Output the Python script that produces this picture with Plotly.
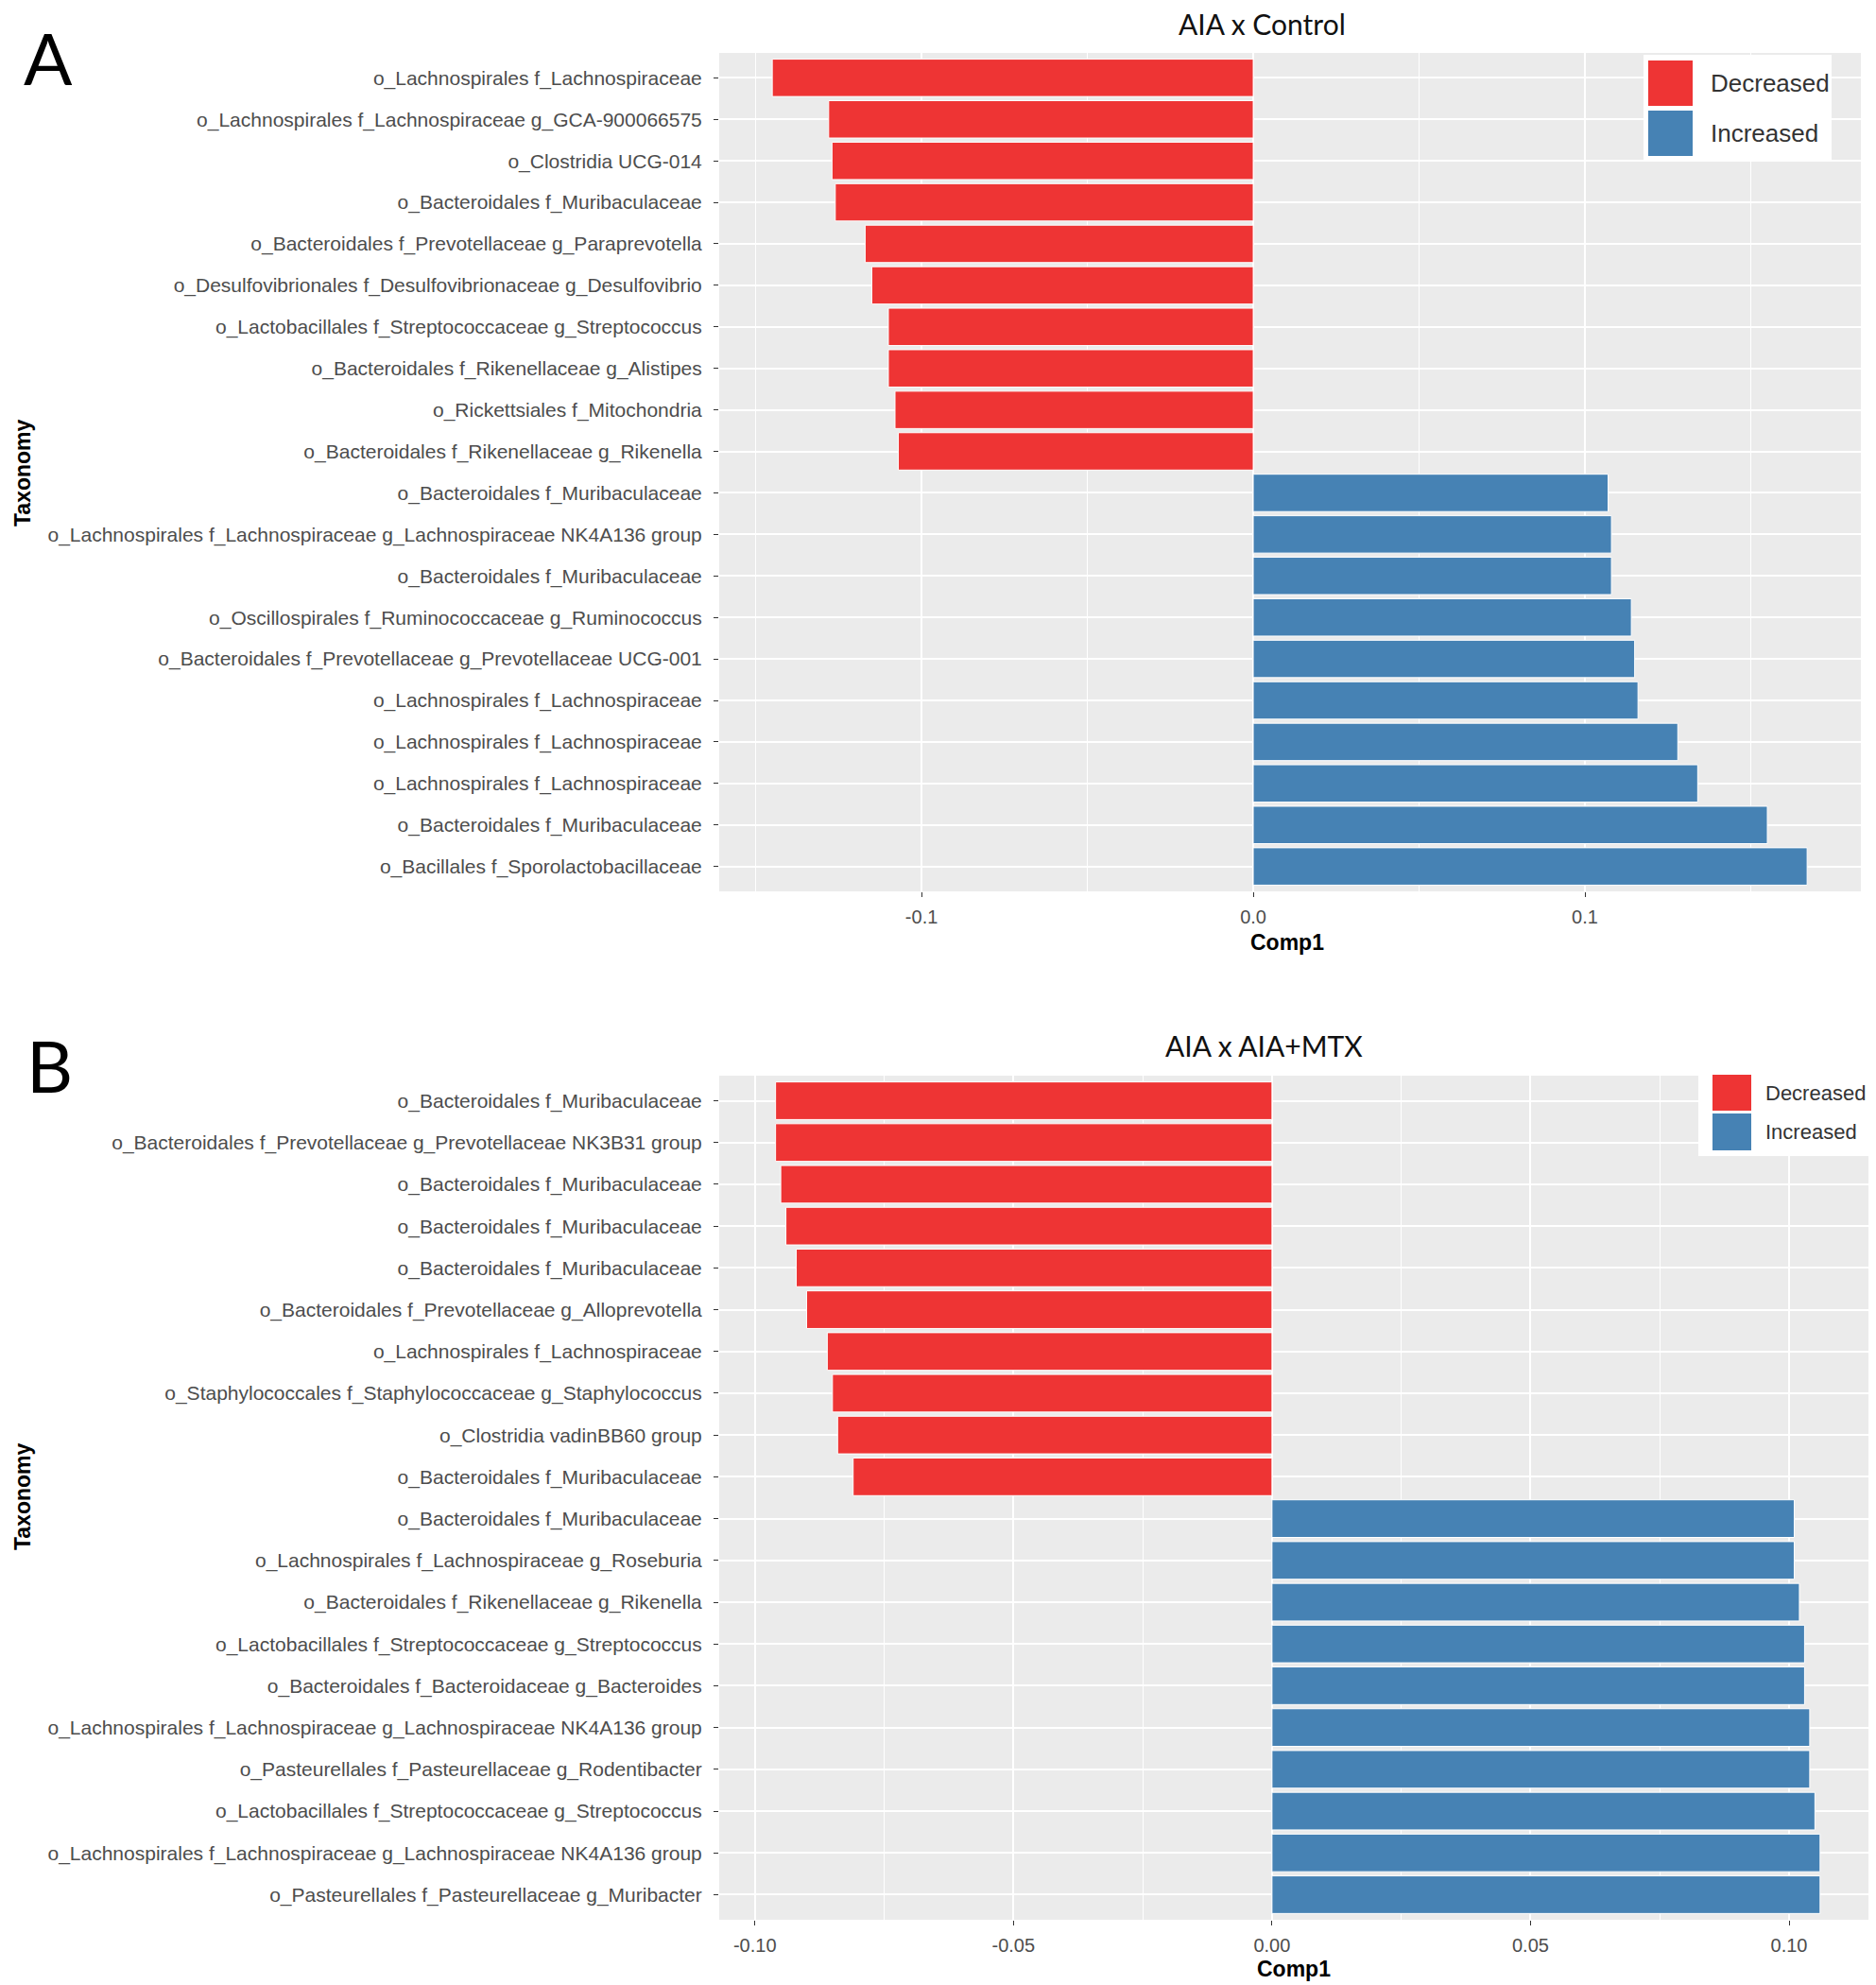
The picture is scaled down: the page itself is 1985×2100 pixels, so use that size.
import plotly.graph_objects as go

W, H = 1985, 2100
OFF = 8  # page body margin offset of the rendered figure

# ---------------- data (top-to-bottom order as displayed) ----------------
taxa_a = [
    "o_Lachnospirales f_Lachnospiraceae",
    "o_Lachnospirales f_Lachnospiraceae g_GCA-900066575",
    "o_Clostridia UCG-014",
    "o_Bacteroidales f_Muribaculaceae",
    "o_Bacteroidales f_Prevotellaceae g_Paraprevotella",
    "o_Desulfovibrionales f_Desulfovibrionaceae g_Desulfovibrio",
    "o_Lactobacillales f_Streptococcaceae g_Streptococcus",
    "o_Bacteroidales f_Rikenellaceae g_Alistipes",
    "o_Rickettsiales f_Mitochondria",
    "o_Bacteroidales f_Rikenellaceae g_Rikenella",
    "o_Bacteroidales f_Muribaculaceae",
    "o_Lachnospirales f_Lachnospiraceae g_Lachnospiraceae NK4A136 group",
    "o_Bacteroidales f_Muribaculaceae",
    "o_Oscillospirales f_Ruminococcaceae g_Ruminococcus",
    "o_Bacteroidales f_Prevotellaceae g_Prevotellaceae UCG-001",
    "o_Lachnospirales f_Lachnospiraceae",
    "o_Lachnospirales f_Lachnospiraceae",
    "o_Lachnospirales f_Lachnospiraceae",
    "o_Bacteroidales f_Muribaculaceae",
    "o_Bacillales f_Sporolactobacillaceae",
]
comp1_a = [-0.145, -0.128, -0.127, -0.126, -0.117, -0.115, -0.110, -0.110, -0.108, -0.107,
           0.107, 0.108, 0.108, 0.114, 0.115, 0.116, 0.128, 0.134, 0.155, 0.167]

taxa_b = [
    "o_Bacteroidales f_Muribaculaceae",
    "o_Bacteroidales f_Prevotellaceae g_Prevotellaceae NK3B31 group",
    "o_Bacteroidales f_Muribaculaceae",
    "o_Bacteroidales f_Muribaculaceae",
    "o_Bacteroidales f_Muribaculaceae",
    "o_Bacteroidales f_Prevotellaceae g_Alloprevotella",
    "o_Lachnospirales f_Lachnospiraceae",
    "o_Staphylococcales f_Staphylococcaceae g_Staphylococcus",
    "o_Clostridia vadinBB60 group",
    "o_Bacteroidales f_Muribaculaceae",
    "o_Bacteroidales f_Muribaculaceae",
    "o_Lachnospirales f_Lachnospiraceae g_Roseburia",
    "o_Bacteroidales f_Rikenellaceae g_Rikenella",
    "o_Lactobacillales f_Streptococcaceae g_Streptococcus",
    "o_Bacteroidales f_Bacteroidaceae g_Bacteroides",
    "o_Lachnospirales f_Lachnospiraceae g_Lachnospiraceae NK4A136 group",
    "o_Pasteurellales f_Pasteurellaceae g_Rodentibacter",
    "o_Lactobacillales f_Streptococcaceae g_Streptococcus",
    "o_Lachnospirales f_Lachnospiraceae g_Lachnospiraceae NK4A136 group",
    "o_Pasteurellales f_Pasteurellaceae g_Muribacter",
]
comp1_b = [-0.096, -0.096, -0.095, -0.094, -0.092, -0.090, -0.086, -0.085, -0.084, -0.081,
           0.101, 0.101, 0.102, 0.103, 0.103, 0.104, 0.104, 0.105, 0.106, 0.106]

xticks_a = [-0.1, 0.0, 0.1]
xticklabels_a = ["-0.1", "0.0", "0.1"]
xticks_b = [-0.10, -0.05, 0.00, 0.05, 0.10]
xticklabels_b = ["-0.10", "-0.05", "0.00", "0.05", "0.10"]

groups = ["Decreased", "Increased"]
group_colors = ["#EE3434", "#4682B4"]
titles = ["AIA x Control", "AIA x AIA+MTX"]
panel_letters = ["A", "B"]

# ---------------- layout geometry (pixels, page coordinates) ----------------
panels = [
    dict(left=761, right=1969, top=56, bottom=943, xr=[-0.161, 0.1832], minor=0.05,
         ticks=(xticks_a, xticklabels_a),
         title_xy=(1335, 25), letter_xy=(51, 60), tax_xy=(24, 500), comp_xy=(1362, 997),
         leg=dict(box=(1739, 58, 1938, 170), key_x=(1744, 1791), keys=[(64, 112), (117, 165)],
                  text_x=1808, size=26)),
    dict(left=761, right=1980, top=1138, bottom=2031, xr=[-0.1069, 0.1159], minor=0.025,
         ticks=(xticks_b, xticklabels_b),
         title_xy=(1337, 1106), letter_xy=(52, 1126), tax_xy=(24, 1583), comp_xy=(1369, 2083),
         leg=dict(box=(1797, 1113, 1985, 1223), key_x=(1812, 1853), keys=[(1137, 1175), (1178, 1217)],
                  text_x=1866, size=22)),
]

def px(x, y):
    return (x - OFF) / W, 1 - (y - OFF) / H

fig = go.Figure()
shapes, annotations = [], []
FONT = "Liberation Sans, Arial, sans-serif"
TITLE_FONT = "Lato, Open Sans, sans-serif"

for k, (taxa, vals) in enumerate([(taxa_a, comp1_a), (taxa_b, comp1_b)]):
    p = panels[k]
    xa = "x" if k == 0 else "x2"
    ya = "y" if k == 0 else "y2"
    pos = list(range(len(taxa)))
    for g, col in zip(groups, group_colors):
        sel = [i for i, v in enumerate(vals) if (v < 0) == (g == "Decreased")]
        fig.add_trace(go.Bar(
            x=[vals[i] for i in sel], y=[pos[i] for i in sel], orientation="h",
            width=0.9, marker=dict(color=col, line=dict(color="white", width=1)),
            name=g, showlegend=False, xaxis=xa, yaxis=ya,
        ))
    x0, y1 = px(p["left"], p["top"])
    x1, y0 = px(p["right"], p["bottom"])
    axkey = "" if k == 0 else "2"
    tv, tt = p["ticks"]
    fig.update_layout(**{
        "xaxis" + axkey: dict(
            domain=[x0, x1], anchor=ya, range=p["xr"], tickvals=tv, ticktext=tt,
            showgrid=True, gridcolor="white", gridwidth=2,
            minor=dict(dtick=p["minor"], tick0=0, showgrid=True, gridcolor="white", gridwidth=1),
            zeroline=False, ticks="outside", ticklen=5, tickcolor="#333333", tickwidth=1,
            tickfont=dict(family=FONT, size=20, color="#4D4D4D"), ticklabelstandoff=4,
            showline=False,
        ),
        "yaxis" + axkey: dict(
            domain=[y0, y1], anchor=xa, range=[len(taxa) - 0.4, -0.6],
            tickvals=pos, ticktext=taxa, showgrid=True, gridcolor="white", gridwidth=2,
            zeroline=False, ticks="outside", ticklen=5, tickcolor="#333333", tickwidth=1,
            tickfont=dict(family=FONT, size=21, color="#4D4D4D"), ticklabelstandoff=8,
        ),
    })
    # panel background
    shapes.append(dict(type="rect", xref="paper", yref="paper", x0=x0, x1=x1, y0=y0, y1=y1,
                       fillcolor="#EBEBEB", line=dict(width=0), layer="below"))
    # title, letter, axis titles
    tx, ty = px(*p["title_xy"])
    annotations.append(dict(text=titles[k], x=tx, y=ty, xref="paper", yref="paper", showarrow=False,
                            font=dict(family=TITLE_FONT, size=30, color="#111111"),
                            xanchor="center", yanchor="middle"))
    lx, ly = px(*p["letter_xy"])
    annotations.append(dict(text=panel_letters[k], x=lx, y=ly, xref="paper", yref="paper",
                            showarrow=False, font=dict(family=TITLE_FONT, size=76, color="black"),
                            xanchor="center", yanchor="middle"))
    ax_, ay_ = px(*p["tax_xy"])
    annotations.append(dict(text="<b>Taxonomy</b>", x=ax_, y=ay_, xref="paper", yref="paper",
                            showarrow=False, textangle=-90,
                            font=dict(family=FONT, size=23, color="black"),
                            xanchor="center", yanchor="middle"))
    cx, cy = px(*p["comp_xy"])
    annotations.append(dict(text="<b>Comp1</b>", x=cx, y=cy, xref="paper", yref="paper",
                            showarrow=False, font=dict(family=FONT, size=23, color="black"),
                            xanchor="center", yanchor="middle"))
    # legend (guide)
    lg = p["leg"]
    bx0, by1 = px(lg["box"][0], lg["box"][1])
    bx1, by0 = px(lg["box"][2], lg["box"][3])
    shapes.append(dict(type="rect", xref="paper", yref="paper", x0=bx0, x1=bx1, y0=by0, y1=by1,
                       fillcolor="white", line=dict(width=0), layer="above"))
    for (ky0, ky1), g, col in zip(lg["keys"], groups, group_colors):
        kx0, kyy1 = px(lg["key_x"][0], ky0)
        kx1, kyy0 = px(lg["key_x"][1], ky1)
        shapes.append(dict(type="rect", xref="paper", yref="paper", x0=kx0, x1=kx1, y0=kyy0,
                           y1=kyy1, fillcolor=col, line=dict(width=0), layer="above"))
        ttx, tty = px(lg["text_x"], (ky0 + ky1) / 2)
        annotations.append(dict(text=g, x=ttx, y=tty, xref="paper", yref="paper", showarrow=False,
                                font=dict(family=FONT, size=lg["size"], color="#333333"),
                                xanchor="left", yanchor="middle"))

fig.update_layout(
    width=W, height=H, margin=dict(l=0, r=0, t=0, b=0),
    paper_bgcolor="white", plot_bgcolor="rgba(0,0,0,0)",
    barmode="overlay", showlegend=False,
    shapes=shapes, annotations=annotations,
)

fig.write_html("out.html")
